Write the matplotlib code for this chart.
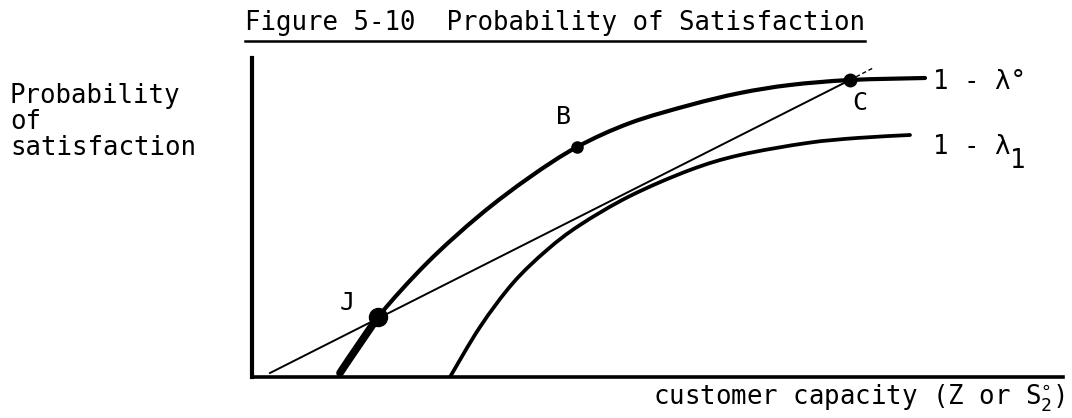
import matplotlib
matplotlib.use("Agg")
import matplotlib.pyplot as plt
from matplotlib.lines import Line2D
from matplotlib.path import Path
from matplotlib.patches import PathPatch

plt.rcParams['font.family'] = ['DejaVu Sans Mono']
plt.rcParams['mathtext.fontset'] = 'custom'
plt.rcParams['mathtext.rm'] = 'DejaVu Sans Mono'

# curve samples (capacity, probability) in plot units
upper_x = [88, 98, 126, 175, 228, 278, 325, 378, 438, 488, 538, 598, 673]
upper_y = [4, 19, 60, 114, 162, 200, 230, 254, 272, 284, 292, 297, 299]
lower_x = [198, 228, 261, 295, 328, 378, 438, 488, 555, 605, 658]
lower_y = [0, 50, 94, 127, 152, 181, 207, 222, 234, 239, 242]

# tangent line J -> C plus its short extension
tangent_x = [18, 598]
tangent_y = [4, 297]
tangent_ext_x = [598, 621]
tangent_ext_y = [297, 309]

point_names = ['J', 'B', 'C']
point_x = [126, 325, 598]
point_y = [60, 230, 297]
point_sizes = [13, 8, 9]
label_x = [95, 311, 608]
label_y = [74, 260, 274]


def smooth_path(xs, ys):
    # catmull-rom through the samples, written as cubic bezier pieces
    pts = list(zip(xs, ys))
    ext = [pts[0]] + pts + [pts[-1]]
    verts = [pts[0]]
    codes = [Path.MOVETO]
    for i in range(1, len(ext) - 2):
        p0, p1, p2, p3 = ext[i - 1], ext[i], ext[i + 1], ext[i + 2]
        c1 = (p1[0] + (p2[0] - p0[0]) / 6, p1[1] + (p2[1] - p0[1]) / 6)
        c2 = (p2[0] - (p3[0] - p1[0]) / 6, p2[1] - (p3[1] - p1[1]) / 6)
        verts += [c1, c2, p2]
        codes += [Path.CURVE4] * 3
    return Path(verts, codes)


def draw_curve(ax, xs, ys, lw):
    ax.add_patch(PathPatch(smooth_path(xs, ys), fill=False, edgecolor='black',
                           lw=lw, capstyle='round', joinstyle='round'))


fig = plt.figure(figsize=(10.72, 4.18), dpi=100)
ax = fig.add_axes([252 / 1072, 41 / 418, 811 / 1072, 319 / 418])
ax.set_xlim(0, 811)
ax.set_ylim(0, 319)

for side in ['top', 'right']:
    ax.spines[side].set_visible(False)
ax.spines['left'].set_linewidth(3)
ax.spines['bottom'].set_linewidth(2.6)
ax.set_xticks([])
ax.set_yticks([])

draw_curve(ax, upper_x, upper_y, 3.0)
draw_curve(ax, upper_x[:3], upper_y[:3], 5.5)
draw_curve(ax, lower_x, lower_y, 2.7)
ax.plot(tangent_x, tangent_y, color='black', lw=1.4)
ax.plot(tangent_ext_x, tangent_ext_y, color='black', lw=1.0, ls=(0, (3, 2)))

for name, px, py, ms, lx, ly in zip(point_names, point_x, point_y, point_sizes, label_x, label_y):
    ax.plot(px, py, 'o', color='black', ms=ms)
    ax.text(lx, ly, name, fontsize=18, ha='center', va='center')

# curve labels on the right
ax.text(681, 295, '1 - λ°', fontsize=18.5, ha='left', va='center')
ax.text(681, 230, '1 - λ', fontsize=18.5, ha='left', va='center')
ax.text(758, 216, '1', fontsize=18.5, ha='left', va='center')

fig.text(653 / 1072, 1 - 398 / 418, r'customer capacity (Z or $\mathregular{S^{\circ}_{2}}$)',
         fontsize=18.5, ha='left', va='center')

fig.text(10 / 1072, 1 - 83 / 418, 'Probability\nof\nsatisfaction',
         fontsize=18.5, ha='left', va='top', linespacing=1.0)

title = fig.text(245 / 1072, 1 - 23 / 418, 'Figure 5-10  Probability of Satisfaction',
                 fontsize=18.5, ha='left', va='center')

# underline the title
fig.canvas.draw()
bb = title.get_window_extent().transformed(fig.transFigure.inverted())
fig.add_artist(Line2D([bb.x0, bb.x1], [1 - 41 / 418] * 2, transform=fig.transFigure,
                      color='black', lw=1.8))

fig.savefig('out.png', dpi=100)
